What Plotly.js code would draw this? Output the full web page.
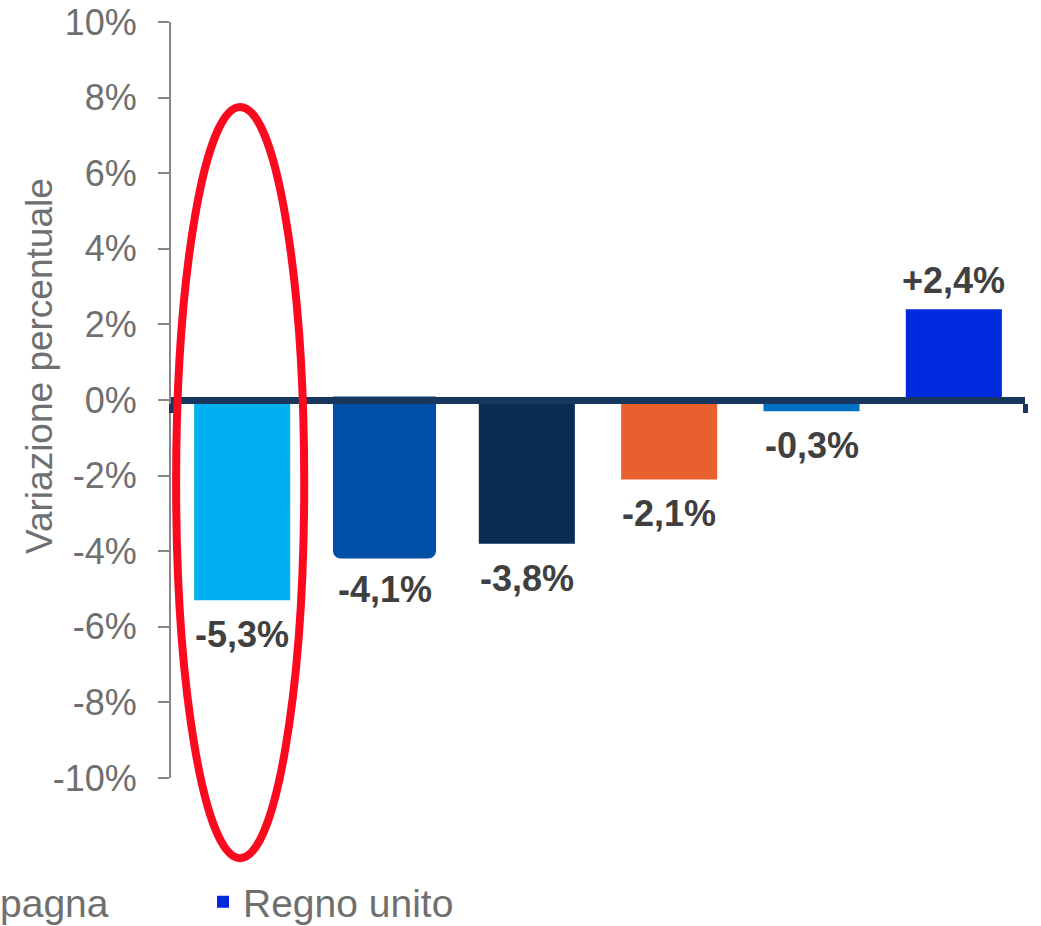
<!DOCTYPE html>
<html>
<head>
<meta charset="utf-8">
<script src="https://cdn.plot.ly/plotly-3.0.1.min.js"></script>
<style>
  html, body { margin: 0; padding: 0; background: #ffffff; }
  #chart { width: 1041px; height: 926px; }
</style>
</head>
<body>
<div id="chart"></div>
<script>
// ---- data ----
const categories = ["Italia", "Germania", "Francia", "Media UE", "Spagna", "Regno unito"];
const values = [-5.3, -4.1, -3.8, -2.1, -0.3, 2.4];
const tickVals = [-10, -8, -6, -4, -2, 0, 2, 4, 6, 8, 10];
const tickText = ["-10%", "-8%", "-6%", "-4%", "-2%", "0%", "2%", "4%", "6%", "8%", "10%"];
const legendShown = ["Spagna", "Regno unito"];

// ---- styles ----
const barColors = ["#00b0f0", "#0050a8", "#0b2d55", "#e9602f", "#0070c0", "#0029dd"];
const FONT = "Liberation Sans, Arial, sans-serif";
const GREY = "#6f6f6f";
const NAVY = "#17375e";

function fmtLabel(v) {
  return (v > 0 ? "+" : "") + v.toFixed(1).replace(".", ",") + "%";
}

const traces = categories.map((c, i) => ({
  type: "bar",
  x: [c],
  y: [values[i]],
  name: c,
  showlegend: legendShown.indexOf(c) >= 0,
  marker: {
    color: barColors[i],
    line: { color: barColors[i], width: i === 1 ? 7 : 0 },
    cornerradius: i === 1 ? 4 : 0
  },
  hoverinfo: "x+y"
}));

const labelAnnotations = categories.map((c, i) => ({
  x: c,
  y: values[i],
  xref: "x",
  yref: "y",
  text: "<b>" + fmtLabel(values[i]) + "</b>",
  showarrow: false,
  xanchor: "center",
  yanchor: values[i] < 0 ? "top" : "bottom",
  yshift: values[i] < 0 ? -12 : 6,
  font: { family: FONT, size: 36, color: "#404040" }
}));

const layout = {
  width: 1041,
  height: 926,
  paper_bgcolor: "#ffffff",
  plot_bgcolor: "#ffffff",
  margin: { l: 171, r: 16, t: 22, b: 148, autoexpand: false },
  barmode: "overlay",
  bargap: 0.325,
  font: { family: FONT, color: GREY },
  xaxis: {
    type: "category",
    anchor: "free",
    position: 0.5,
    showgrid: false,
    zeroline: false,
    showline: true,
    linecolor: NAVY,
    linewidth: 7,
    ticks: "outside",
    tickmode: "array",
    tickvals: [-0.5, 5.5],
    ticktext: ["", ""],
    ticklen: 9,
    tickwidth: 5,
    tickcolor: NAVY,
    showticklabels: false,
    layer: "above traces"
  },
  yaxis: {
    range: [-10, 10],
    tickmode: "array",
    tickvals: tickVals,
    ticktext: tickText,
    showgrid: false,
    zeroline: false,
    showline: true,
    linecolor: "#868686",
    linewidth: 2,
    ticks: "outside",
    ticklen: 11,
    tickwidth: 2,
    tickcolor: "#868686",
    ticklabelstandoff: 14,
    tickfont: { family: FONT, size: 36, color: GREY }
  },
  showlegend: true,
  legend: {
    orientation: "h",
    x: -0.2775,
    xanchor: "left",
    y: -0.1215,
    yanchor: "top",
    entrywidth: 224,
    font: { family: FONT, size: 39, color: GREY },
    bgcolor: "rgba(0,0,0,0)",
    borderwidth: 0
  },
  annotations: labelAnnotations.concat([{
    text: "Variazione percentuale",
    xref: "paper",
    yref: "paper",
    x: -0.1534,
    y: 0.545,
    xanchor: "center",
    yanchor: "middle",
    textangle: -90,
    showarrow: false,
    font: { family: FONT, size: 37, color: GREY }
  }]),
  shapes: [{
    type: "circle",
    xref: "x",
    yref: "paper",
    x0: -0.464,
    x1: 0.436,
    y0: -0.106,
    y1: 0.8876,
    line: { color: "#fb0a1f", width: 8 },
    layer: "above"
  }]
};

Plotly.newPlot("chart", traces, layout, { displayModeBar: false, responsive: false });
</script>
</body>
</html>
